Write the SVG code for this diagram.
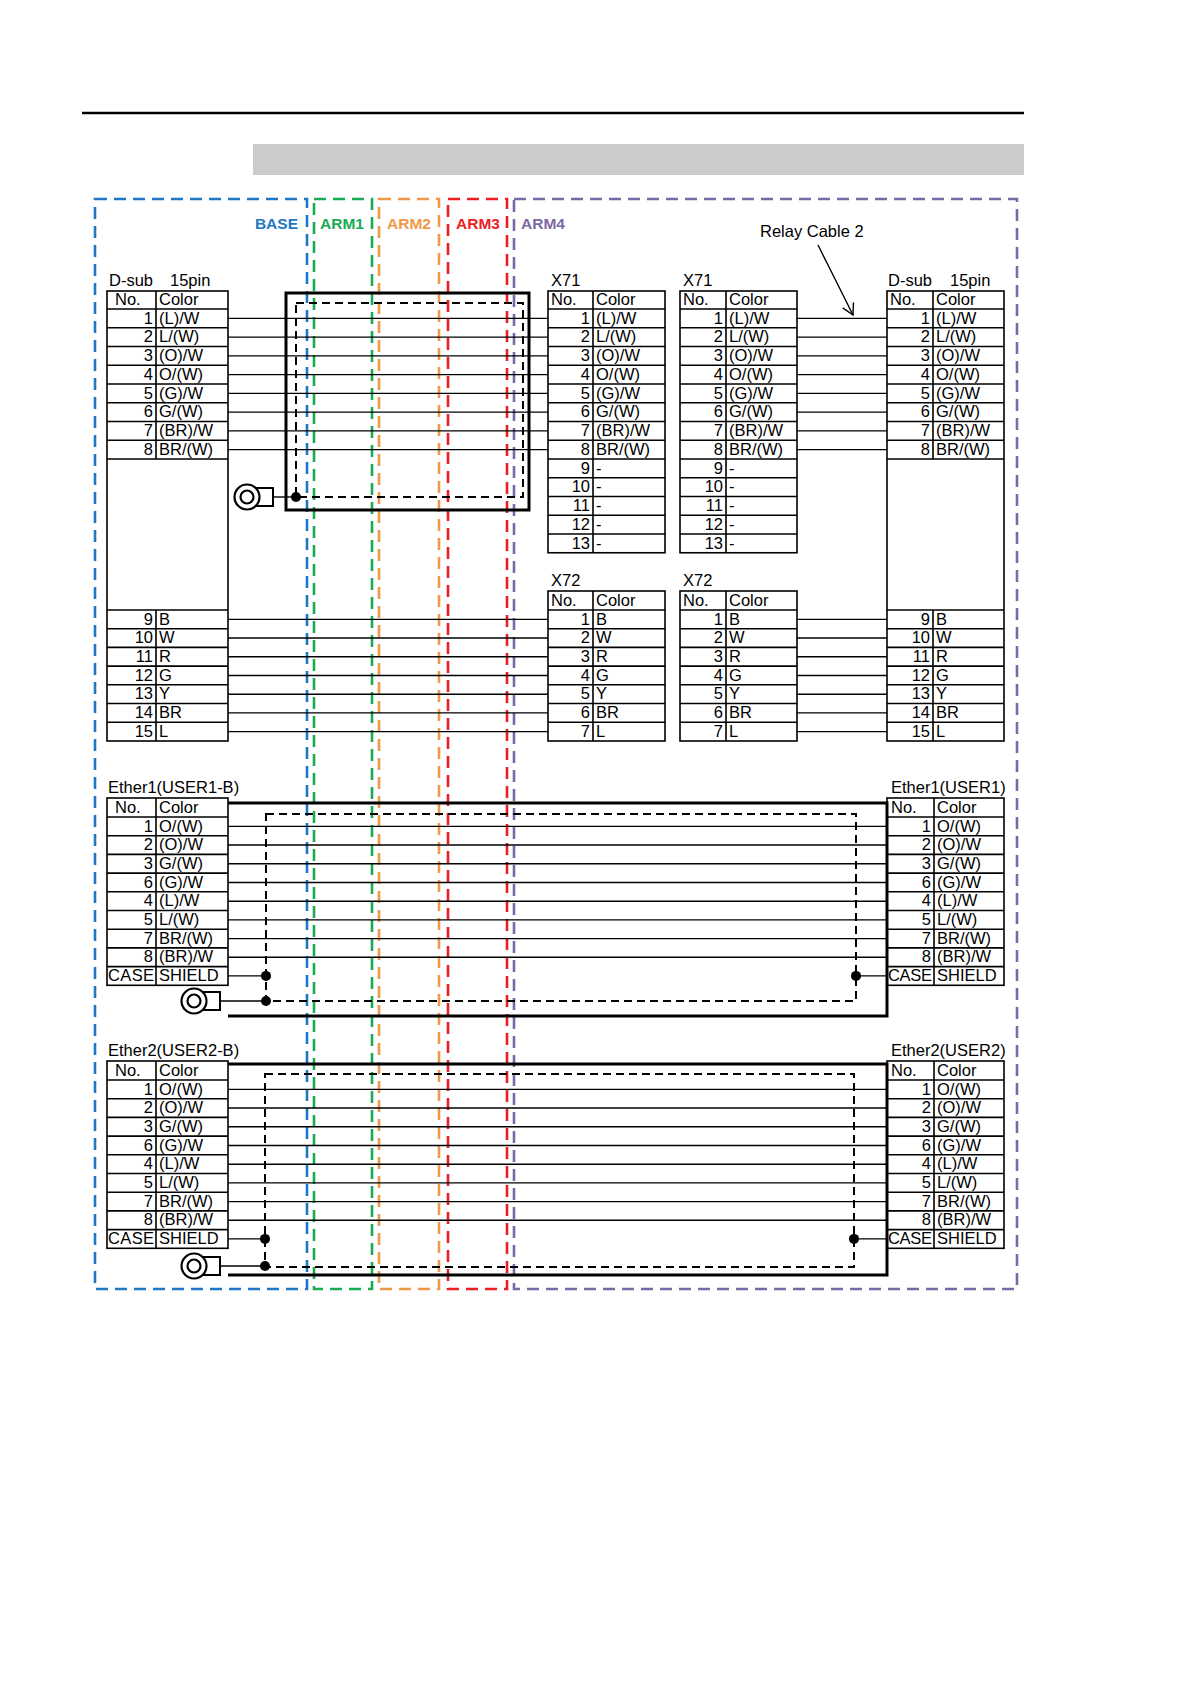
<svg xmlns="http://www.w3.org/2000/svg" width="1191" height="1684" viewBox="0 0 1191 1684">
<defs>
<style>
text{font-family:"Liberation Sans",Arial,sans-serif;font-size:16.5px;fill:#000}
.n{text-anchor:end}
.lbl{font-size:15.5px;font-weight:bold}
.tb{fill:none;stroke:#000;stroke-width:1.6}
.w{stroke:#000;stroke-width:1.4;fill:none}
.sh{fill:none;stroke:#000;stroke-width:3}
.dsh{fill:none;stroke:#000;stroke-width:2;stroke-dasharray:8 5}
.reg{fill:none;stroke-width:2.6;stroke-dasharray:12 7}
</style>
<marker id="ar" markerWidth="14" markerHeight="14" refX="12" refY="7" orient="auto" markerUnits="userSpaceOnUse"><path d="M1,1 L12,7 L1,13" fill="none" stroke="#000" stroke-width="1.4"/></marker>
<g id="gnd"><rect x="6" y="-9" width="20" height="18" fill="#fff" stroke="#000" stroke-width="2"/><circle cx="0" cy="0" r="12.5" fill="#fff" stroke="#000" stroke-width="2.2"/><circle cx="0" cy="0" r="6.5" fill="none" stroke="#000" stroke-width="2.2"/></g>
</defs>
<rect width="1191" height="1684" fill="#fff"/>
<line x1="82" y1="113" x2="1024" y2="113" stroke="#000" stroke-width="2.5"/>
<rect x="253" y="144" width="771" height="31" fill="#cbcbcb"/>

<g id="regions">
<rect class="reg" x="95" y="199" width="212" height="1090" stroke="#1f77c4"/>
<rect class="reg" x="314" y="199" width="58" height="1090" stroke="#1aaa55"/>
<rect class="reg" x="379" y="199" width="60" height="1090" stroke="#f0984a"/>
<rect class="reg" x="448" y="199" width="59" height="1090" stroke="#ee1c24"/>
<rect class="reg" x="514" y="199" width="503" height="1090" stroke="#7b68a6"/>
<text class="lbl" x="298" y="229" text-anchor="end" style="fill:#1f77c4">BASE</text>
<text class="lbl" x="320" y="229" style="fill:#1aaa55">ARM1</text>
<text class="lbl" x="387" y="229" style="fill:#f0984a">ARM2</text>
<text class="lbl" x="456" y="229" style="fill:#ee1c24">ARM3</text>
<text class="lbl" x="521" y="229" style="fill:#7b68a6">ARM4</text>
</g>

<g id="connectors">
<path class="w" d="M228,318.4H548M228,337.1H548M228,355.9H548M228,374.6H548M228,393.4H548M228,412.1H548M228,430.9H548M228,449.6H548"/>
<path class="w" d="M797,318.4H887M797,337.1H887M797,355.9H887M797,374.6H887M797,393.4H887M797,412.1H887M797,430.9H887M797,449.6H887"/>
<path class="w" d="M228,619.4H548M228,638H548M228,656.8H548M228,675.5H548M228,694.2H548M228,712.9H548M228,731.6H548"/>
<path class="w" d="M797,619.4H887M797,638H887M797,656.8H887M797,675.5H887M797,694.2H887M797,712.9H887M797,731.6H887"/>
<path class="w" d="M228,826.4H887M228,845H887M228,863.8H887M228,882.5H887M228,901.2H887M228,919.9H887M228,938.6H887M228,957.3H887M228,975.9H266M856,975.9H887M221,1001H266"/>
<path class="w" d="M228,1089.4H887M228,1108H887M228,1126.8H887M228,1145.5H887M228,1164.2H887M228,1182.9H887M228,1201.6H887M228,1220.3H887M228,1238.9H265M854,1238.9H887M221,1266H265"/>
<path class="w" d="M273,497H296"/>
<line x1="818" y1="245" x2="853" y2="315" stroke="#000" stroke-width="1.4" marker-end="url(#ar)"/>
</g>

<g id="shield1">
<rect class="sh" x="286" y="293" width="243" height="217"/>
<rect class="dsh" x="296" y="303" width="227" height="194"/>
<circle cx="296" cy="497" r="5"/>
<use href="#gnd" x="247" y="497"/>
</g>
<g id="shield2">
<path class="sh" d="M228,803H887V1016H228"/>
<rect class="dsh" x="266" y="814" width="590" height="187"/>
<circle cx="266" cy="975.9" r="5"/><circle cx="266" cy="1001" r="5"/><circle cx="856" cy="975.9" r="5"/>
<use href="#gnd" x="194" y="1001"/>
</g>
<g id="shield3">
<path class="sh" d="M228,1064H887V1275H228"/>
<rect class="dsh" x="265" y="1074" width="589" height="193"/>
<circle cx="265" cy="1238.9" r="5"/><circle cx="265" cy="1266" r="5"/><circle cx="854" cy="1238.9" r="5"/>
<use href="#gnd" x="194" y="1266"/>
</g>

<g id="dsub-left">
<text x="109" y="286">D-sub</text><text x="170" y="286">15pin</text>
<rect class="tb" x="107" y="291" width="121" height="450"/>
<path class="tb" d="M107,309H228M107,327.75H228M107,346.5H228M107,365.25H228M107,384H228M107,402.75H228M107,421.5H228M107,440.25H228M107,459H228M107,610H228M107,628.7H228M107,647.4H228M107,666.1H228M107,684.8H228M107,703.5H228M107,722.2H228M156,291V459M156,610V741"/>
<text x="115" y="305">No.</text><text x="159" y="305">Color</text>
<text class="n" x="153" y="323.5">1</text><text x="159" y="323.5">(L)/W</text>
<text class="n" x="153" y="342.2">2</text><text x="159" y="342.2">L/(W)</text>
<text class="n" x="153" y="361">3</text><text x="159" y="361">(O)/W</text>
<text class="n" x="153" y="379.7">4</text><text x="159" y="379.7">O/(W)</text>
<text class="n" x="153" y="398.5">5</text><text x="159" y="398.5">(G)/W</text>
<text class="n" x="153" y="417.2">6</text><text x="159" y="417.2">G/(W)</text>
<text class="n" x="153" y="436">7</text><text x="159" y="436">(BR)/W</text>
<text class="n" x="153" y="454.7">8</text><text x="159" y="454.7">BR/(W)</text>
<text class="n" x="153" y="624.5">9</text><text x="159" y="624.5">B</text>
<text class="n" x="153" y="643.2">10</text><text x="159" y="643.2">W</text>
<text class="n" x="153" y="661.9">11</text><text x="159" y="661.9">R</text>
<text class="n" x="153" y="680.6">12</text><text x="159" y="680.6">G</text>
<text class="n" x="153" y="699.3">13</text><text x="159" y="699.3">Y</text>
<text class="n" x="153" y="718">14</text><text x="159" y="718">BR</text>
<text class="n" x="153" y="736.7">15</text><text x="159" y="736.7">L</text>
</g>

<g id="dsub-right">
<text x="888" y="286">D-sub</text><text x="950" y="286">15pin</text>
<rect class="tb" x="887" y="291" width="117" height="450"/>
<path class="tb" d="M887,309H1004M887,327.75H1004M887,346.5H1004M887,365.25H1004M887,384H1004M887,402.75H1004M887,421.5H1004M887,440.25H1004M887,459H1004M887,610H1004M887,628.7H1004M887,647.4H1004M887,666.1H1004M887,684.8H1004M887,703.5H1004M887,722.2H1004M933,291V459M933,610V741"/>
<text x="890" y="305">No.</text><text x="936" y="305">Color</text>
<text class="n" x="930" y="323.5">1</text><text x="936" y="323.5">(L)/W</text>
<text class="n" x="930" y="342.2">2</text><text x="936" y="342.2">L/(W)</text>
<text class="n" x="930" y="361">3</text><text x="936" y="361">(O)/W</text>
<text class="n" x="930" y="379.7">4</text><text x="936" y="379.7">O/(W)</text>
<text class="n" x="930" y="398.5">5</text><text x="936" y="398.5">(G)/W</text>
<text class="n" x="930" y="417.2">6</text><text x="936" y="417.2">G/(W)</text>
<text class="n" x="930" y="436">7</text><text x="936" y="436">(BR)/W</text>
<text class="n" x="930" y="454.7">8</text><text x="936" y="454.7">BR/(W)</text>
<text class="n" x="930" y="624.5">9</text><text x="936" y="624.5">B</text>
<text class="n" x="930" y="643.2">10</text><text x="936" y="643.2">W</text>
<text class="n" x="930" y="661.9">11</text><text x="936" y="661.9">R</text>
<text class="n" x="930" y="680.6">12</text><text x="936" y="680.6">G</text>
<text class="n" x="930" y="699.3">13</text><text x="936" y="699.3">Y</text>
<text class="n" x="930" y="718">14</text><text x="936" y="718">BR</text>
<text class="n" x="930" y="736.7">15</text><text x="936" y="736.7">L</text>
</g>

<g id="x71-a">
<text x="551" y="286">X71</text>
<rect class="tb" x="548" y="291" width="117" height="261.75"/>
<path class="tb" d="M548,309H665M548,327.75H665M548,346.5H665M548,365.25H665M548,384H665M548,402.75H665M548,421.5H665M548,440.25H665M548,459H665M548,477.75H665M548,496.5H665M548,515.25H665M548,534H665M593,291V552.75"/>
<text x="551" y="305">No.</text><text x="596" y="305">Color</text>
<text class="n" x="590" y="323.5">1</text><text x="596" y="323.5">(L)/W</text>
<text class="n" x="590" y="342.2">2</text><text x="596" y="342.2">L/(W)</text>
<text class="n" x="590" y="361">3</text><text x="596" y="361">(O)/W</text>
<text class="n" x="590" y="379.7">4</text><text x="596" y="379.7">O/(W)</text>
<text class="n" x="590" y="398.5">5</text><text x="596" y="398.5">(G)/W</text>
<text class="n" x="590" y="417.2">6</text><text x="596" y="417.2">G/(W)</text>
<text class="n" x="590" y="436">7</text><text x="596" y="436">(BR)/W</text>
<text class="n" x="590" y="454.7">8</text><text x="596" y="454.7">BR/(W)</text>
<text class="n" x="590" y="473.5">9</text><text x="596" y="473.5">-</text>
<text class="n" x="590" y="492.2">10</text><text x="596" y="492.2">-</text>
<text class="n" x="590" y="511">11</text><text x="596" y="511">-</text>
<text class="n" x="590" y="529.7">12</text><text x="596" y="529.7">-</text>
<text class="n" x="590" y="548.5">13</text><text x="596" y="548.5">-</text>
</g>

<g id="x71-b">
<text x="683" y="286">X71</text>
<rect class="tb" x="680" y="291" width="117" height="261.75"/>
<path class="tb" d="M680,309H797M680,327.75H797M680,346.5H797M680,365.25H797M680,384H797M680,402.75H797M680,421.5H797M680,440.25H797M680,459H797M680,477.75H797M680,496.5H797M680,515.25H797M680,534H797M726,291V552.75"/>
<text x="683" y="305">No.</text><text x="729" y="305">Color</text>
<text class="n" x="723" y="323.5">1</text><text x="729" y="323.5">(L)/W</text>
<text class="n" x="723" y="342.2">2</text><text x="729" y="342.2">L/(W)</text>
<text class="n" x="723" y="361">3</text><text x="729" y="361">(O)/W</text>
<text class="n" x="723" y="379.7">4</text><text x="729" y="379.7">O/(W)</text>
<text class="n" x="723" y="398.5">5</text><text x="729" y="398.5">(G)/W</text>
<text class="n" x="723" y="417.2">6</text><text x="729" y="417.2">G/(W)</text>
<text class="n" x="723" y="436">7</text><text x="729" y="436">(BR)/W</text>
<text class="n" x="723" y="454.7">8</text><text x="729" y="454.7">BR/(W)</text>
<text class="n" x="723" y="473.5">9</text><text x="729" y="473.5">-</text>
<text class="n" x="723" y="492.2">10</text><text x="729" y="492.2">-</text>
<text class="n" x="723" y="511">11</text><text x="729" y="511">-</text>
<text class="n" x="723" y="529.7">12</text><text x="729" y="529.7">-</text>
<text class="n" x="723" y="548.5">13</text><text x="729" y="548.5">-</text>
</g>

<g id="x72-a">
<text x="551" y="586">X72</text>
<rect class="tb" x="548" y="591" width="117" height="150"/>
<path class="tb" d="M548,610H665M548,628.7H665M548,647.4H665M548,666.1H665M548,684.8H665M548,703.5H665M548,722.2H665M593,591V741"/>
<text x="551" y="605.5">No.</text><text x="596" y="605.5">Color</text>
<text class="n" x="590" y="624.5">1</text><text x="596" y="624.5">B</text>
<text class="n" x="590" y="643.2">2</text><text x="596" y="643.2">W</text>
<text class="n" x="590" y="661.9">3</text><text x="596" y="661.9">R</text>
<text class="n" x="590" y="680.6">4</text><text x="596" y="680.6">G</text>
<text class="n" x="590" y="699.3">5</text><text x="596" y="699.3">Y</text>
<text class="n" x="590" y="718">6</text><text x="596" y="718">BR</text>
<text class="n" x="590" y="736.7">7</text><text x="596" y="736.7">L</text>
</g>

<g id="x72-b">
<text x="683" y="586">X72</text>
<rect class="tb" x="680" y="591" width="117" height="150"/>
<path class="tb" d="M680,610H797M680,628.7H797M680,647.4H797M680,666.1H797M680,684.8H797M680,703.5H797M680,722.2H797M726,591V741"/>
<text x="683" y="605.5">No.</text><text x="729" y="605.5">Color</text>
<text class="n" x="723" y="624.5">1</text><text x="729" y="624.5">B</text>
<text class="n" x="723" y="643.2">2</text><text x="729" y="643.2">W</text>
<text class="n" x="723" y="661.9">3</text><text x="729" y="661.9">R</text>
<text class="n" x="723" y="680.6">4</text><text x="729" y="680.6">G</text>
<text class="n" x="723" y="699.3">5</text><text x="729" y="699.3">Y</text>
<text class="n" x="723" y="718">6</text><text x="729" y="718">BR</text>
<text class="n" x="723" y="736.7">7</text><text x="729" y="736.7">L</text>
</g>

<g id="relay-label"><text x="760" y="237">Relay Cable 2</text></g>

<g id="ether1-left">
<text x="108" y="793">Ether1(USER1-B)</text>
<rect class="tb" x="107" y="798" width="121" height="187.3"/>
<path class="tb" d="M107,817H228M107,835.7H228M107,854.4H228M107,873.1H228M107,891.8H228M107,910.5H228M107,929.2H228M107,947.9H228M107,966.6H228M156,798V985.3"/>
<text x="115" y="812.5">No.</text><text x="159" y="812.5">Color</text>
<text class="n" x="153" y="831.5">1</text><text x="159" y="831.5">O/(W)</text>
<text class="n" x="153" y="850.2">2</text><text x="159" y="850.2">(O)/W</text>
<text class="n" x="153" y="868.9">3</text><text x="159" y="868.9">G/(W)</text>
<text class="n" x="153" y="887.6">6</text><text x="159" y="887.6">(G)/W</text>
<text class="n" x="153" y="906.3">4</text><text x="159" y="906.3">(L)/W</text>
<text class="n" x="153" y="925">5</text><text x="159" y="925">L/(W)</text>
<text class="n" x="153" y="943.7">7</text><text x="159" y="943.7">BR/(W)</text>
<text class="n" x="153" y="962.4">8</text><text x="159" y="962.4">(BR)/W</text>
<text x="108" y="981.1" textLength="46">CASE</text><text x="159" y="981.1">SHIELD</text>
</g>

<g id="ether1-right">
<text x="891" y="793">Ether1(USER1)</text>
<rect class="tb" x="887" y="798" width="117" height="187.3"/>
<path class="tb" d="M887,817H1004M887,835.7H1004M887,854.4H1004M887,873.1H1004M887,891.8H1004M887,910.5H1004M887,929.2H1004M887,947.9H1004M887,966.6H1004M934,798V985.3"/>
<text x="891" y="812.5">No.</text><text x="937" y="812.5">Color</text>
<text class="n" x="931" y="831.5">1</text><text x="937" y="831.5">O/(W)</text>
<text class="n" x="931" y="850.2">2</text><text x="937" y="850.2">(O)/W</text>
<text class="n" x="931" y="868.9">3</text><text x="937" y="868.9">G/(W)</text>
<text class="n" x="931" y="887.6">6</text><text x="937" y="887.6">(G)/W</text>
<text class="n" x="931" y="906.3">4</text><text x="937" y="906.3">(L)/W</text>
<text class="n" x="931" y="925">5</text><text x="937" y="925">L/(W)</text>
<text class="n" x="931" y="943.7">7</text><text x="937" y="943.7">BR/(W)</text>
<text class="n" x="931" y="962.4">8</text><text x="937" y="962.4">(BR)/W</text>
<text x="888" y="981.1" textLength="44">CASE</text><text x="937" y="981.1">SHIELD</text>
</g>

<g id="ether2-left">
<text x="108" y="1056">Ether2(USER2-B)</text>
<rect class="tb" x="107" y="1061" width="121" height="187.3"/>
<path class="tb" d="M107,1080H228M107,1098.7H228M107,1117.4H228M107,1136.1H228M107,1154.8H228M107,1173.5H228M107,1192.2H228M107,1210.9H228M107,1229.6H228M156,1061V1248.3"/>
<text x="115" y="1075.5">No.</text><text x="159" y="1075.5">Color</text>
<text class="n" x="153" y="1094.5">1</text><text x="159" y="1094.5">O/(W)</text>
<text class="n" x="153" y="1113.2">2</text><text x="159" y="1113.2">(O)/W</text>
<text class="n" x="153" y="1131.9">3</text><text x="159" y="1131.9">G/(W)</text>
<text class="n" x="153" y="1150.6">6</text><text x="159" y="1150.6">(G)/W</text>
<text class="n" x="153" y="1169.3">4</text><text x="159" y="1169.3">(L)/W</text>
<text class="n" x="153" y="1188">5</text><text x="159" y="1188">L/(W)</text>
<text class="n" x="153" y="1206.7">7</text><text x="159" y="1206.7">BR/(W)</text>
<text class="n" x="153" y="1225.4">8</text><text x="159" y="1225.4">(BR)/W</text>
<text x="108" y="1244.1" textLength="46">CASE</text><text x="159" y="1244.1">SHIELD</text>
</g>

<g id="ether2-right">
<text x="891" y="1056">Ether2(USER2)</text>
<rect class="tb" x="887" y="1061" width="117" height="187.3"/>
<path class="tb" d="M887,1080H1004M887,1098.7H1004M887,1117.4H1004M887,1136.1H1004M887,1154.8H1004M887,1173.5H1004M887,1192.2H1004M887,1210.9H1004M887,1229.6H1004M934,1061V1248.3"/>
<text x="891" y="1075.5">No.</text><text x="937" y="1075.5">Color</text>
<text class="n" x="931" y="1094.5">1</text><text x="937" y="1094.5">O/(W)</text>
<text class="n" x="931" y="1113.2">2</text><text x="937" y="1113.2">(O)/W</text>
<text class="n" x="931" y="1131.9">3</text><text x="937" y="1131.9">G/(W)</text>
<text class="n" x="931" y="1150.6">6</text><text x="937" y="1150.6">(G)/W</text>
<text class="n" x="931" y="1169.3">4</text><text x="937" y="1169.3">(L)/W</text>
<text class="n" x="931" y="1188">5</text><text x="937" y="1188">L/(W)</text>
<text class="n" x="931" y="1206.7">7</text><text x="937" y="1206.7">BR/(W)</text>
<text class="n" x="931" y="1225.4">8</text><text x="937" y="1225.4">(BR)/W</text>
<text x="888" y="1244.1" textLength="44">CASE</text><text x="937" y="1244.1">SHIELD</text>
</g>
</svg>
